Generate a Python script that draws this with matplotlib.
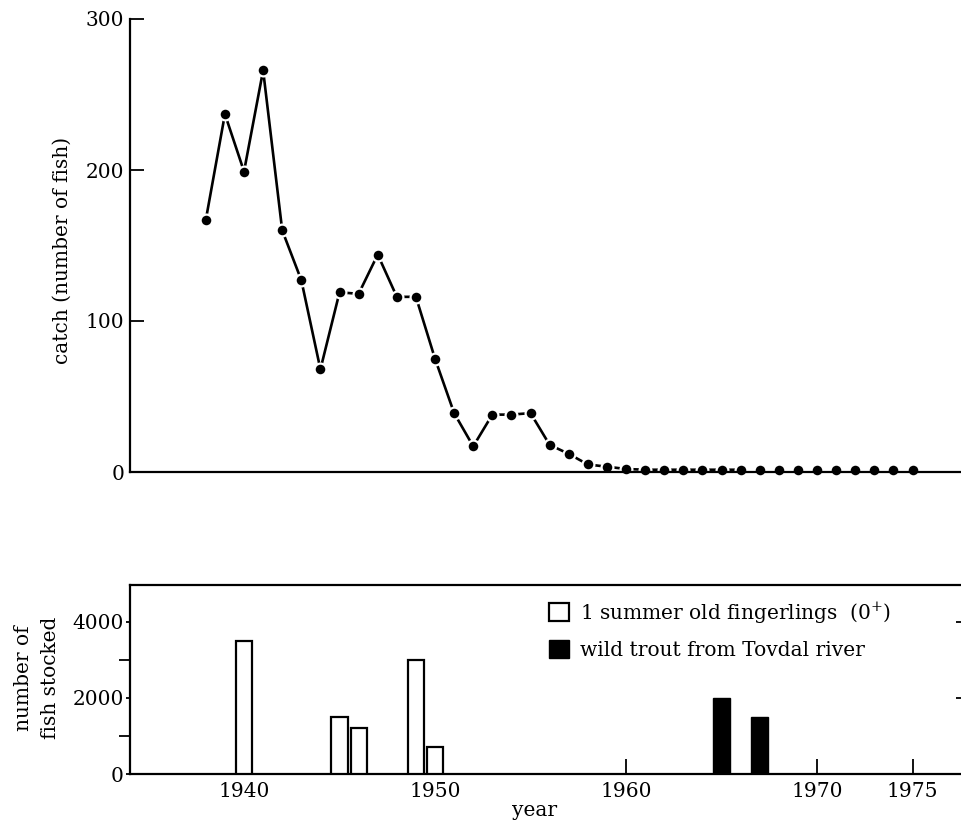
import matplotlib.pyplot as plt

plt.rcParams['font.family'] = ['DejaVu Serif']
plt.rcParams['mathtext.fontset'] = 'dejavuserif'

# catch per year
catch_years = list(range(1938, 1976))
catch = [167, 237, 199, 266, 160, 127, 68, 119, 118, 144, 116, 116, 75,
         39, 17, 38, 38, 39, 18, 12, 5, 3.5, 2,
         1.5, 1.5, 1.5, 1.5, 1.5, 1.5, 1.5, 1.5, 1.5, 1.5, 1.5, 1.5, 1.5, 1.5, 1.5]
line_last_year = 1966  # joined by a line up to here, dots only after

# stocking (lower panel)
fingerling_years = [1940, 1945, 1946, 1949, 1950]
fingerlings = [3500, 1500, 1200, 3000, 700]
wild_years = [1965, 1967]
wild = [2000, 1500]

year_ticks = [1940, 1950, 1960, 1970, 1975]
catch_ticks = [0, 100, 200, 300]
stock_ticks = [0, 2000, 4000]
stock_minor = [1000, 3000]

W, H = 961, 821
fig = plt.figure(figsize=(W / 100, H / 100), dpi=100)
fs = 14.5
lw_axis = 1.6

def px(x0, y_top, x1, y_bot):
    return [x0 / W, (H - y_bot) / H, (x1 - x0) / W, (y_bot - y_top) / H]

xlim = (1934.03, 1977.8)

# upper panel
ax1 = fig.add_axes(px(130, 19, 966, 472))
n = catch_years.index(line_last_year) + 1
style = dict(color='black', marker='o', ms=8.5, mfc='black', mec='white',
             mew=1.6, clip_on=False)
ax1.plot(catch_years[:n], catch[:n], lw=1.9, **style)
ax1.plot(catch_years[n:], catch[n:], ls='none', **style)
ax1.set_xlim(*xlim)
ax1.set_ylim(0, 300)
ax1.set_yticks(catch_ticks)
ax1.set_xticks([])
ax1.tick_params(axis='y', direction='in', length=10, width=1.3,
                labelsize=fs, pad=4)
for s in ['top', 'right']:
    ax1.spines[s].set_visible(False)
for s in ['left', 'bottom']:
    ax1.spines[s].set_linewidth(lw_axis)

# lower panel
ax2 = fig.add_axes(px(130, 585, 966, 774))
b1 = ax2.bar(fingerling_years, fingerlings, width=0.85, facecolor='white',
             edgecolor='black', linewidth=1.6, zorder=3)
b2 = ax2.bar(wild_years, wild, width=0.9, facecolor='black',
             edgecolor='black', linewidth=1.0, zorder=3)
ax2.set_xlim(*xlim)
ax2.set_ylim(0, 4970)
ax2.set_xticks(year_ticks)
ax2.set_yticks(stock_ticks)
ax2.set_yticks(stock_minor, minor=True)
ax2.tick_params(axis='x', direction='in', length=11, width=1.3,
                labelsize=fs, pad=6)
ax2.tick_params(axis='y', which='major', direction='out', length=3,
                width=1.3, labelsize=fs, pad=1.5)
ax2.tick_params(axis='y', which='minor', direction='out', length=8,
                width=1.3)
ax2.spines['right'].set_visible(False)
for s in ['top', 'left', 'bottom']:
    ax2.spines[s].set_linewidth(lw_axis)

# inward ticks on the (cut off) right edge
ax2r = ax2.twinx()
ax2r.set_ylim(ax2.get_ylim())
ax2r.set_yticks(stock_ticks[1:])
ax2r.set_yticklabels([])
ax2r.tick_params(axis='y', direction='in', length=7.5, width=1.3)
for s in ax2r.spines.values():
    s.set_visible(False)

ax2.legend([b1, b2],
           ['1 summer old fingerlings  (0$^{+}$)', 'wild trout from Tovdal river'],
           loc='upper left', bbox_to_anchor=(549 / W, 1 - 600 / H),
           bbox_transform=fig.transFigure, frameon=False, borderpad=0,
           borderaxespad=0, handlelength=1.0, handleheight=1.0,
           handletextpad=0.55, labelspacing=0.72, fontsize=fs)

fig.text(62 / W, 1 - 250 / H, 'catch (number of fish)', rotation=90,
         ha='center', va='center', fontsize=fs)
fig.text(37 / W, 1 - 678 / H, 'number of\nfish stocked', rotation=90,
         ha='center', va='center', multialignment='center',
         linespacing=1.5, fontsize=fs)
fig.text(535 / W, 1 - 810 / H, 'year', ha='center', va='center', fontsize=fs)

fig.savefig('out.png', dpi=100)
